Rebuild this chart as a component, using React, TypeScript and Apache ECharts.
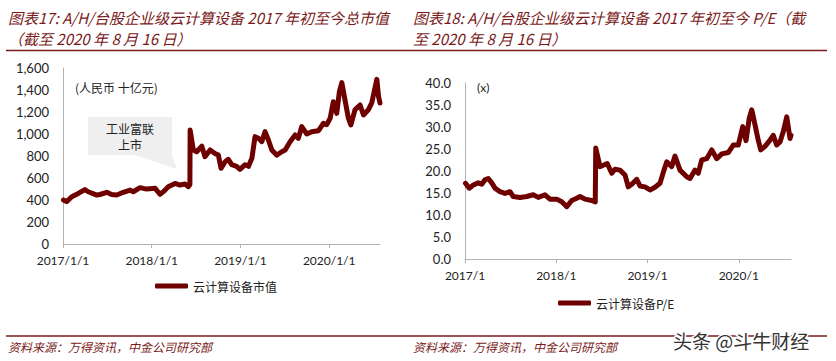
import React, { useEffect, useRef } from "react";
import * as echarts from "echarts";

// ---- Data ----
const capDates = [
  "2017-01-03", "2017-01-16", "2017-02-06", "2017-03-05", "2017-04-01", "2017-04-15", "2017-05-20",
  "2017-06-02", "2017-06-30", "2017-07-20", "2017-08-10", "2017-09-06", "2017-10-04", "2017-10-17",
  "2017-11-14", "2017-12-11", "2018-01-15", "2018-02-04", "2018-02-18", "2018-03-10", "2018-04-07",
  "2018-04-27", "2018-05-18", "2018-06-01", "2018-06-07", "2018-06-08", "2018-06-21", "2018-07-05",
  "2018-07-26", "2018-08-08", "2018-08-29", "2018-09-18", "2018-10-02", "2018-10-13", "2018-10-30",
  "2018-11-12", "2018-11-26", "2018-12-16", "2018-12-30", "2019-01-20", "2019-02-03", "2019-02-17",
  "2019-03-02", "2019-03-16", "2019-03-30", "2019-04-12", "2019-04-26", "2019-05-10", "2019-05-30",
  "2019-06-20", "2019-07-04", "2019-07-24", "2019-08-14", "2019-08-27", "2019-09-10", "2019-10-01",
  "2019-10-21", "2019-11-18", "2019-12-08", "2019-12-22", "2020-01-05", "2020-01-18", "2020-02-01",
  "2020-02-12", "2020-02-22", "2020-03-06", "2020-03-20", "2020-03-30", "2020-04-16", "2020-05-07",
  "2020-05-21", "2020-06-10", "2020-06-24", "2020-07-15", "2020-07-22", "2020-07-28",
];
const capValues = [
  400, 385, 430, 460, 495, 475, 445,
  450, 470, 450, 445, 470, 490, 475,
  512, 499, 506, 452, 476, 521, 551,
  536, 545, 521, 540, 1036, 855, 839,
  890, 794, 855, 823, 808, 688, 748,
  770, 721, 706, 679, 721, 706, 779,
  976, 961, 931, 1021, 946, 855, 808,
  839, 855, 930, 991, 960, 1067, 1000,
  1020, 1030, 1097, 1085, 1143, 1294, 1188,
  1385, 1467, 1309, 1143, 1082, 1220, 1264,
  1173, 1220, 1282, 1497, 1340, 1282,
];

const peDates = [
  "2017-01-03", "2017-01-18", "2017-02-03", "2017-02-23", "2017-03-09", "2017-03-22", "2017-04-04",
  "2017-04-18", "2017-05-01", "2017-05-21", "2017-06-10", "2017-06-30", "2017-07-13", "2017-08-09",
  "2017-09-05", "2017-10-01", "2017-10-21", "2017-11-17", "2017-12-07", "2018-01-03", "2018-01-23",
  "2018-02-12", "2018-03-04", "2018-03-24", "2018-04-06", "2018-04-26", "2018-05-23", "2018-06-06",
  "2018-06-08", "2018-06-25", "2018-07-08", "2018-07-24", "2018-08-11", "2018-08-24", "2018-09-13",
  "2018-10-03", "2018-10-16", "2018-10-30", "2018-11-19", "2018-12-02", "2018-12-22", "2019-01-11",
  "2019-01-31", "2019-02-20", "2019-03-08", "2019-03-19", "2019-04-08", "2019-04-21", "2019-05-11",
  "2019-06-07", "2019-06-20", "2019-07-10", "2019-07-23", "2019-08-06", "2019-08-26", "2019-09-15",
  "2019-10-05", "2019-10-25", "2019-11-20", "2019-12-10", "2019-12-30", "2020-01-17", "2020-01-30",
  "2020-02-12", "2020-02-22", "2020-03-06", "2020-03-19", "2020-03-29", "2020-04-15", "2020-05-05",
  "2020-05-18", "2020-06-01", "2020-06-14", "2020-06-27", "2020-07-11", "2020-07-24", "2020-07-28",
];
const peValues = [
  17.2, 16.1, 16.8, 17.3, 17.0, 18.0, 18.3,
  17.3, 16.1, 15.3, 14.9, 15.3, 14.2, 14.0,
  14.2, 14.6, 14.0, 14.6, 13.6, 13.6, 13.0,
  11.9, 13.3, 13.8, 14.2, 13.6, 13.3, 13.0,
  25.2, 21.0, 21.3, 21.7, 19.5, 20.4, 20.2,
  19.1, 16.4, 17.0, 18.1, 16.6, 16.4, 15.7,
  16.3, 17.2, 20.2, 22.1, 21.0, 23.4, 20.2,
  18.7, 18.3, 20.2, 19.5, 22.5, 22.8, 24.8,
  22.8, 23.9, 24.2, 25.9, 25.9, 30.1, 26.9,
  32.0, 33.9, 30.5, 27.0, 24.8, 25.6, 27.0,
  28.1, 25.9, 26.6, 28.9, 32.3, 27.4, 28.1,
];

const AXIS_START = "2017-01-01";
const AXIS_END = "2020-07-28";
const capTickLabels = ["2017/1/1", "2018/1/1", "2019/1/1", "2020/1/1"];
const peTickLabels = ["2017/1", "2018/1", "2019/1", "2020/1"];
const capTicks = [0, 200, 400, 600, 800, 1000, 1200, 1400, 1600];
const peTicks = [0, 5, 10, 15, 20, 25, 30, 35, 40];

const capName = "云计算设备市值";
const peName = "云计算设备P/E";

const title17a = "图表17: A/H/台股企业级云计算设备 2017 年初至今总市值";
const title17b = "（截至 2020 年 8 月 16 日）";
const title18a = "图表18: A/H/台股企业级云计算设备 2017 年初至今 P/E（截";
const title18b = "至 2020 年 8 月 16 日）";
const sourceText = "资料来源：万得资讯，中金公司研究部";
const unitLeft = "(人民币 十亿元)";
const unitRight = "(x)";
const calloutLines = ["工业富联", "上市"];
const watermark = "头条 @斗牛财经";

// ---- helpers ----
const dayOf = (s: string) => {
  const [y, m, d] = s.split("-").map(Number);
  return (Date.UTC(y, m - 1, d) - Date.UTC(2017, 0, 1)) / 86400000;
};
const startDay = dayOf(AXIS_START);
const endDay = dayOf(AXIS_END);

const LINE = "#6e0000";
const RED = "#7a1a1a";
const AXIS = "#b3b3b3";
const LATIN = "Lato, 'Noto Sans CJK SC', sans-serif";
const CJK = "'Noto Sans CJK SC', Lato, sans-serif";

export default function App() {
  const ref = useRef<HTMLDivElement>(null);

  useEffect(() => {
    if (!ref.current) return;
    const chart = echarts.init(ref.current, undefined, { renderer: "svg" });

    const xAxisBase = (labels: string[], gridIndex: number, margin: number) => ({
      type: "value" as const,
      gridIndex,
      min: startDay,
      max: endDay,
      interval: 365,
      axisLine: { show: true, lineStyle: { color: AXIS, width: 1 } },
      axisTick: { show: true, length: 4, lineStyle: { color: AXIS } },
      splitLine: { show: false },
      axisLabel: {
        margin,
        color: "#222",
        fontSize: 12,
        fontFamily: LATIN,
        showMaxLabel: false,
        formatter: (v: number) => {
          const i = Math.round(v / 365);
          return Math.abs(v - i * 365) < 0.5 && labels[i] ? labels[i] : "";
        },
      },
    });

    const yAxisBase = (ticks: number[], gridIndex: number, fmt: (v: number) => string) => ({
      type: "value" as const,
      gridIndex,
      min: ticks[0],
      max: ticks[ticks.length - 1],
      interval: ticks[1] - ticks[0],
      axisLine: { show: true, lineStyle: { color: AXIS, width: 1 } },
      axisTick: { show: false },
      splitLine: { show: false },
      axisLabel: { margin: 14, color: "#222", fontSize: 13, fontFamily: LATIN, formatter: fmt },
    });

    const text = (x: number, y: number, t: string, style: any = {}) => ({
      type: "text",
      x,
      y,
      style: {
        text: t,
        fill: RED,
        fontSize: 15,
        fontStyle: "italic",
        fontFamily: CJK,
        textVerticalAlign: "middle",
        ...style,
      },
      silent: true,
    });

    chart.setOption({
      animation: false,
      grid: [
        { left: 63, top: 68, width: 317, height: 176 },
        { left: 465, top: 83, width: 326, height: 176 },
      ],
      xAxis: [xAxisBase(capTickLabels, 0, 10), xAxisBase(peTickLabels, 1, 10)],
      yAxis: [
        yAxisBase(capTicks, 0, (v: number) => v.toLocaleString("en-US")),
        yAxisBase(peTicks, 1, (v: number) => v.toFixed(1)),
      ],
      legend: [
        {
          data: [capName],
          left: 150,
          top: 275,
          icon: "roundRect",
          itemWidth: 33,
          itemHeight: 5,
          itemGap: 4,
          textStyle: { fontSize: 12, color: "#222", fontFamily: CJK },
        },
        {
          data: [peName],
          left: 553,
          top: 292,
          icon: "roundRect",
          itemWidth: 33,
          itemHeight: 5,
          textStyle: { fontSize: 12, color: "#222", fontFamily: CJK },
        },
      ],
      series: [
        {
          name: capName,
          type: "line",
          xAxisIndex: 0,
          yAxisIndex: 0,
          showSymbol: false,
          color: LINE,
          lineStyle: { width: 5, color: LINE, cap: "round", join: "round" },
          data: capDates.map((d, i) => [dayOf(d), capValues[i]]),
        },
        {
          name: peName,
          type: "line",
          xAxisIndex: 1,
          yAxisIndex: 1,
          showSymbol: false,
          color: LINE,
          lineStyle: { width: 5, color: LINE, cap: "round", join: "round" },
          data: peDates.map((d, i) => [dayOf(d), peValues[i]]),
        },
      ],
      graphic: [
        text(8, 17, title17a),
        text(8, 38, title17b),
        text(413, 17, title18a),
        text(413, 38, title18b),
        { type: "line", shape: { x1: 6, y1: 50.5, x2: 827, y2: 50.5 }, style: { stroke: RED, lineWidth: 1.5 }, silent: true },
        { type: "line", shape: { x1: 6, y1: 336, x2: 827, y2: 336 }, style: { stroke: RED, lineWidth: 1.5 }, silent: true },
        text(8, 346, sourceText, { fontSize: 12 }),
        text(413, 346, sourceText, { fontSize: 12 }),
        text(75, 87, unitLeft, { fill: "#222", fontStyle: "normal", fontSize: 12 }),
        text(477, 87, unitRight, { fill: "#222", fontStyle: "normal", fontSize: 12, fontFamily: LATIN }),
        { type: "rect", shape: { x: 88, y: 117, width: 84, height: 38 }, style: { fill: "#efefef" }, silent: true },
        { type: "polygon", shape: { points: [[135, 155], [172, 155], [177, 169]] }, style: { fill: "#efefef" }, silent: true },
        text(130, 128, calloutLines[0], { fill: "#222", fontStyle: "normal", fontSize: 12, textAlign: "center" }),
        text(130, 144, calloutLines[1], { fill: "#222", fontStyle: "normal", fontSize: 12, textAlign: "center" }),
        text(673, 340, watermark, {
          fill: "#333",
          fontStyle: "normal",
          fontSize: 19,
          stroke: "#fff",
          lineWidth: 3,
        }),
      ],
    });

    return () => chart.dispose();
  }, []);

  return (
    <div
      ref={ref}
      style={{ position: "absolute", left: 0, top: 0, width: 836, height: 361, background: "#fff" }}
    />
  );
}
